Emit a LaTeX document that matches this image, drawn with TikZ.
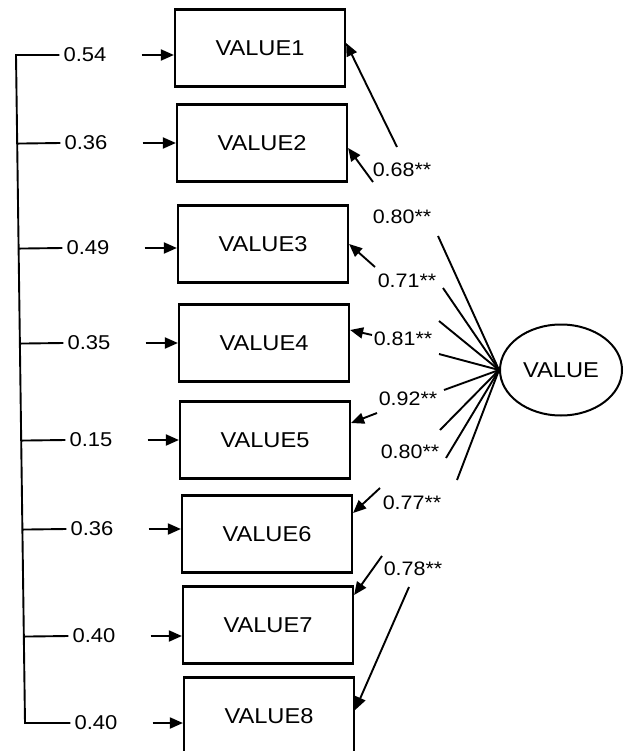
\documentclass[tikz,border=0pt]{standalone}
\usepackage{fontspec}
\setmainfont{Liberation Sans}[FakeStretch=1.1]
\usetikzlibrary{arrows.meta,shapes.geometric,calc}
\begin{document}
\begin{tikzpicture}[x=1pt,y=-1pt,
  varbox/.style={draw, line width=2.2pt, minimum width=170pt, minimum height=77pt, font=\fontsize{21.5}{24}\selectfont},
  latent/.style={ellipse, draw, line width=2pt, minimum width=122pt, minimum height=91pt, font=\fontsize{21.5}{24}\selectfont},
  errlab/.style={inner sep=4pt, font=\fontsize{20}{22}\selectfont},
  loadlab/.style={inner sep=1pt, font=\fontsize{19.5}{22}\selectfont},
  conn/.style={line width=1.9pt},
  arr/.style={line width=1.9pt, -{Triangle[length=13pt,width=11pt]}}]
\useasboundingbox (0,0) rectangle (624,751);
\node[varbox] (v1) at (260,48) {VALUE1};
\node[varbox] (v2) at (262,143) {VALUE2};
\node[varbox] (v3) at (263,244) {VALUE3};
\node[varbox] (v4) at (264,343) {VALUE4};
\node[varbox] (v5) at (265,440) {VALUE5};
\node[varbox] (v6) at (267,534) {VALUE6};
\node[varbox] (v7) at (268,625) {VALUE7};
\node[varbox] (v8) at (269,716) {VALUE8};
\node[latent] (value) at (561,370) {VALUE};
\node[errlab] (e1) at (85,55) {0.54};
\node[errlab] (e2) at (86,143) {0.36};
\node[errlab] (e3) at (88,248) {0.49};
\node[errlab] (e4) at (89,343) {0.35};
\node[errlab] (e5) at (91,440) {0.15};
\node[errlab] (e6) at (92,529) {0.36};
\node[errlab] (e7) at (94,636) {0.40};
\node[errlab] (e8) at (96,723) {0.40};
\coordinate (btop) at (16,55);
\coordinate (bbot) at (25,723);
\draw[conn] (e1.west) -- (btop) -- (bbot) -- (e8.west);
\foreach \i in {2,...,7}
  \draw[conn] (e\i.west) -- ($(btop)!(e\i.west)!(bbot)$);
\foreach \i in {1,...,8}
  \draw[arr, shorten <=31pt] (e\i.east) -- (e\i.east -| v\i.west);
\node[loadlab] (l1) at (402,170) {0.68**};
\node[loadlab] (l2) at (402,217) {0.80**};
\node[loadlab] (l3) at (407,281) {0.71**};
\node[loadlab] (l4) at (403,339) {0.81**};
\node[loadlab] (l5) at (408,399) {0.92**};
\node[loadlab] (l6) at (410,452) {0.80**};
\node[loadlab] (l7) at (412,503) {0.77**};
\node[loadlab] (l8) at (413,569) {0.78**};
\coordinate (a1) at (438,236);
\coordinate (a2) at (443,288);
\coordinate (a3) at (439,321);
\coordinate (a4) at (439,354);
\coordinate (a5) at (444,390);
\coordinate (a6) at (440,430);
\coordinate (a7) at (446,458);
\coordinate (a8) at (457,480);
\foreach \i in {1,...,8}
  \draw[conn] (value.west) -- (a\i);
\coordinate (t1) at (397,147);
\coordinate (t2) at (373,182);
\coordinate (t3) at (375,267);
\coordinate (t4) at (372,335);
\coordinate (t5) at (377,413);
\coordinate (t6) at (380,488);
\coordinate (t7) at (382,556);
\coordinate (t8) at (409,587);
\foreach \i/\s in {1/5,2/-5,3/0,4/13,5/17,6/21,7/30,8/6}
  \draw[arr] (t\i) -- ([yshift=\s pt]v\i.east);
\end{tikzpicture}
\end{document}
